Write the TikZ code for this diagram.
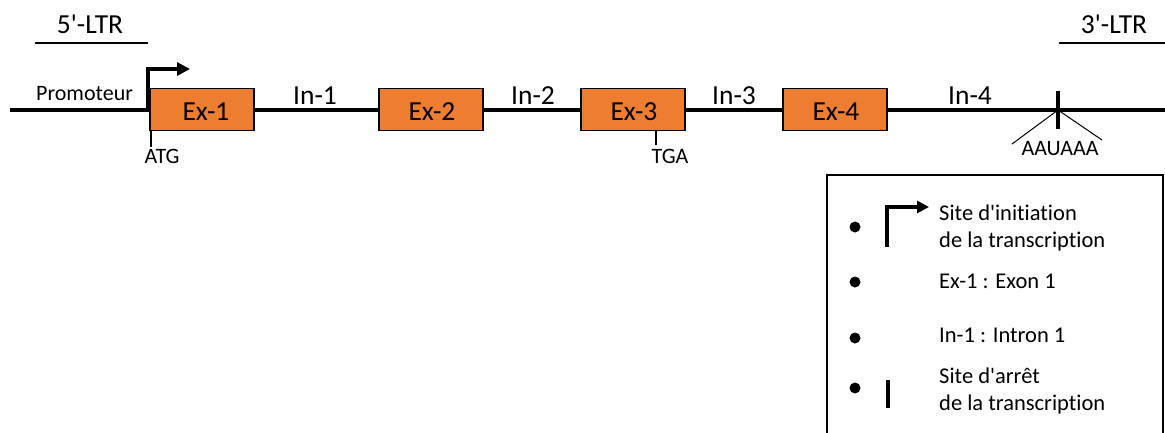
\documentclass[tikz,border=0pt]{standalone}
\usepackage{fontspec}
\setmainfont{Carlito}[Ligatures={TeXOff,NoCommon}]
\usetikzlibrary{arrows.meta}
\definecolor{exon}{HTML}{ED7D31}
\newcommand{\fsbig}{\fontsize{27.5}{33}\selectfont}
\newcommand{\fssmall}{\fontsize{22}{27}\selectfont}
\newcommand{\fslegend}{\fontsize{22.5}{27}\selectfont}
\begin{document}
\begin{tikzpicture}[x=1pt,y=-1pt,
  exonbox/.style={draw=black,line width=1.6pt,fill=exon,minimum width=104pt,minimum height=42pt,inner sep=0pt},
  biglabel/.style={font=\fsbig,inner sep=0pt,anchor=base},
  smalllabel/.style={font=\fssmall,inner sep=0pt,anchor=base},
  legendtext/.style={font=\fslegend,inner sep=0pt,anchor=base west,align=left},
  dna/.style={line width=4.5pt},
  ltr/.style={line width=1.8pt},
  tick/.style={line width=1.5pt},
  thin/.style={line width=1pt},
  startarrow/.style={line width=4pt,-{Triangle[length=13pt,width=13pt]}},
  bullet/.style={circle,fill=black,inner sep=0pt,minimum size=11pt}
]
\useasboundingbox (0,0) rectangle (1165,432);
\clip (0,0) rectangle (1165,432);

% LTR labels
\node[biglabel] (ltr5) at (90,33) {5'-LTR};
\coordinate (ltr5a) at (35,43);
\coordinate (ltr5b) at (148,43);
\draw[ltr] (ltr5a) -- (ltr5b);
\node[biglabel] (ltr3) at (1114,33) {3'-LTR};
\coordinate (ltr3a) at (1059,43);
\coordinate (ltr3b) at (1165,43);
\draw[ltr] (ltr3a) -- (ltr3b);

% DNA backbone
\coordinate (dnaL) at (10,110);
\coordinate (dnaR) at (1165,110);
\draw[dna] (dnaL) -- (dnaR);

% exons
\node[exonbox] (ex1) at (202,109.5) {};
\node[exonbox] (ex2) at (431,109.5) {};
\node[exonbox] (ex3) at (633,109.5) {};
\node[exonbox] (ex4) at (835,109.5) {};
\node[biglabel] (ex1t) at (206,120) {Ex-1};
\node[biglabel] (ex2t) at (432,120) {Ex-2};
\node[biglabel] (ex3t) at (634,120) {Ex-3};
\node[biglabel] (ex4t) at (836,120) {Ex-4};

% introns
\node[biglabel] (in1) at (315,104) {In-1};
\node[biglabel] (in2) at (533,104) {In-2};
\node[biglabel] (in3) at (734,104) {In-3};
\node[biglabel] (in4) at (970,104) {In-4};

% promoter and transcription start
\node[smalllabel,anchor=base west] (prom) at (36,100) {Promoteur};
\coordinate (tssB) at (148,112);
\coordinate (tssC) at (148,69);
\coordinate (tssE) at (190,69);
\draw[startarrow] (tssB) -- (tssC) -- (tssE);

% start and stop codons
\coordinate (atgA) at (151,130);
\coordinate (atgB) at (151,147);
\draw[tick] (atgA) -- (atgB);
\node[smalllabel] (atg) at (162,163) {ATG};
\coordinate (tgaA) at (656,130);
\coordinate (tgaB) at (656,145);
\draw[tick] (tgaA) -- (tgaB);
\node[smalllabel] (tga) at (670,163) {TGA};

% transcription stop and polyadenylation signal
\coordinate (stopT) at (1058,91);
\coordinate (stopB) at (1058,129);
\draw[line width=4pt] (stopT) -- (stopB);
\coordinate (polyC) at (1058,110);
\coordinate (polyL) at (1012,144);
\coordinate (polyR) at (1102,140);
\draw[thin] (polyL) -- (polyC) -- (polyR);
\node[smalllabel] (aauaaa) at (1060,155) {AAUAAA};

% legend
\coordinate (legTL) at (827,175);
\coordinate (legBR) at (1163,445);
\draw[line width=1.5pt] (legTL) rectangle (legBR);
\node[bullet] (b1) at (855,227) {};
\node[bullet] (b2) at (855,282) {};
\node[bullet] (b3) at (855,338) {};
\node[bullet] (b4) at (855,388) {};
\coordinate (lgA) at (887,247);
\coordinate (lgB) at (887,207);
\coordinate (lgC) at (929,207);
\draw[line width=4pt,-{Triangle[length=12pt,width=12pt]}] (lgA) -- (lgB) -- (lgC);
\coordinate (lsA) at (888,380);
\coordinate (lsB) at (888,408);
\draw[line width=4pt] (lsA) -- (lsB);
\node[legendtext] (l1a) at (939,220) {Site d'initiation};
\node[legendtext] (l1b) at (939,247) {de la transcription};
\node[legendtext] (l2) at (939,288) {Ex-1 : Exon 1};
\node[legendtext] (l3) at (939,342) {In-1 : Intron 1};
\node[legendtext] (l4a) at (939,383) {Site d'arrêt};
\node[legendtext] (l4b) at (939,410) {de la transcription};
\end{tikzpicture}
\end{document}
